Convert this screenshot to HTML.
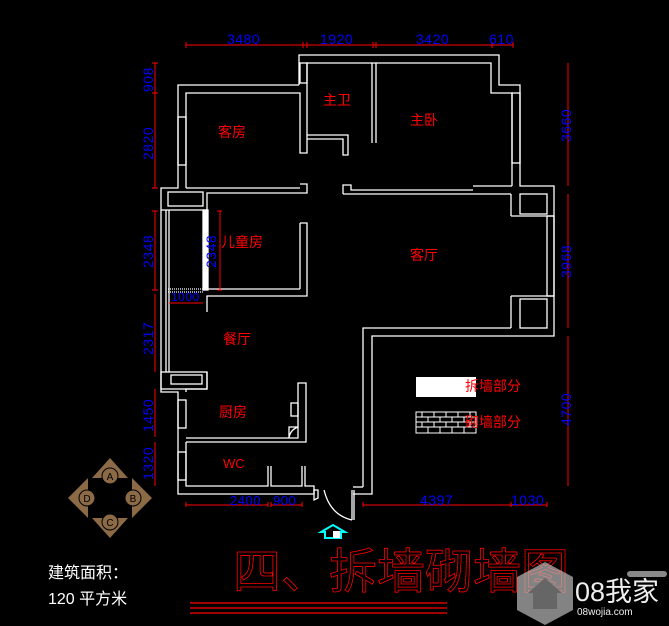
<!DOCTYPE html>
<html><head><meta charset="utf-8"><style>
html,body{margin:0;padding:0;background:#000;}
svg{display:block}
text{font-family:"Liberation Sans","Noto Sans CJK SC",sans-serif;}
</style></head><body>
<svg width="669" height="626" viewBox="0 0 669 626" xmlns="http://www.w3.org/2000/svg">
<rect width="669" height="626" fill="#000"/>
<g fill="none" stroke="#fff" stroke-width="1.3">
<polyline points="299,85 299,55 499,55 499,85 520,85 520,186 554,186 554,336 372,336 372,494 353,494"/>
<polyline points="307,93 307,63 491,63 491,93 512,93 512,186"/>
<polyline points="299,85 178,85 178,188 161,188 161,392 178,392 178,494 314,494"/>
<polyline points="186,188 186,93 300,93 300,153 307,153 307,93"/>
<line x1="186" y1="188" x2="300" y2="188"/>
<rect x="178" y="117" width="8" height="48"/>
<rect x="300" y="63" width="7" height="20"/>
<polyline points="307,135 348,135 348,155 343,155 343,139 307,139"/>
<line x1="372" y1="63" x2="372" y2="143"/>
<line x1="376" y1="63" x2="376" y2="143"/>
<rect x="512" y="93" width="8" height="70"/>
<polyline points="300,184 307,184 307,193 207,193 207,210"/>
<polyline points="343,194 343,185 351,185 351,190 473,190"/>
<line x1="473" y1="186" x2="512" y2="186"/>
<line x1="343" y1="194" x2="511" y2="194"/>
<line x1="511" y1="194" x2="511" y2="216"/>
<rect x="520" y="194" width="27" height="20"/>
<line x1="511" y1="216" x2="554" y2="216"/>
<rect x="168" y="192" width="35" height="14"/>
<line x1="161" y1="210" x2="207" y2="210"/>
<line x1="166" y1="210" x2="166" y2="372"/>
<line x1="169" y1="210" x2="169" y2="372"/>
<rect x="203" y="210" width="5" height="80" fill="#fff"/>
<line x1="168" y1="289" x2="203" y2="289" stroke-dasharray="1,1"/>
<line x1="168" y1="292" x2="203" y2="292" stroke-dasharray="1,1"/>
<polyline points="300,223 307,223 307,296 207,296 207,312"/>
<line x1="207" y1="289" x2="300" y2="289"/>
<line x1="300" y1="223" x2="300" y2="289"/>
<rect x="547" y="216" width="7" height="80"/>
<line x1="511" y1="296" x2="554" y2="296"/>
<line x1="511" y1="296" x2="511" y2="328"/>
<rect x="520" y="299" width="27" height="29"/>
<rect x="161" y="372" width="46" height="17"/>
<rect x="171" y="375" width="31" height="9"/>
<polyline points="186,392 186,389 207,389 207,372"/>
<rect x="178" y="400" width="8" height="28"/>
<rect x="178" y="452" width="8" height="28"/>
<polyline points="186,438 298,438 298,383 306,383 306,442 186,442"/>
<rect x="291" y="403" width="7" height="13"/>
<path d="M289,438 L289,427 L298,427 M289,438 Q290,430 298,427"/>
<polyline points="186,442 186,486 268,486 268,466"/>
<polyline points="271,466 271,486 302,486 302,466"/>
<polyline points="305,466 305,486 314,486 314,494"/>
<polyline points="363,487 363,328 511,328"/>
<polyline points="353,487 363,487"/>
<path d="M314,490 L314,500 L318,498 L318,490 Z"/>
<line x1="352" y1="490" x2="352" y2="520"/>
<line x1="354" y1="490" x2="354" y2="520"/>
<path d="M324,490 Q330,515 352,520"/>
</g>
<rect x="416" y="377" width="60" height="20" fill="#fff"/>
<g stroke="#fff" stroke-width="1" fill="none">
<rect x="416" y="412" width="60" height="21"/>
<line x1="416" y1="417" x2="476" y2="417"/><line x1="416" y1="422" x2="476" y2="422"/><line x1="416" y1="427" x2="476" y2="427"/>
<path d="M422,412v5M434,412v5M446,412v5M458,412v5M470,412v5M428,417v5M440,417v5M452,417v5M464,417v5M422,422v5M434,422v5M446,422v5M458,422v5M470,422v5M428,427v6M440,427v6M452,427v6M464,427v6"/>
</g>
<g fill="#f00" font-size="14">
<text x="465" y="391">拆墙部分</text>
<text x="465" y="427">砌墙部分</text>
<text x="218" y="137">客房</text>
<text x="323" y="105">主卫</text>
<text x="410" y="125">主卧</text>
<text x="221" y="247">儿童房</text>
<text x="410" y="260">客厅</text>
<text x="223" y="344">餐厅</text>
<text x="219" y="417">厨房</text>
<text x="223" y="468" font-size="13">WC</text>
</g>
<g stroke="#f00" stroke-width="1" fill="none">
<line x1="186" y1="45" x2="513" y2="45"/>
<path d="M186,42v6M303,42v6M307,42v6M373,42v6M376,42v6M492,42v6M513,42v6"/>
<line x1="155" y1="63" x2="155" y2="188"/>
<path d="M152,63h6M152,93h6M152,188h6"/>
<line x1="155" y1="211" x2="155" y2="290"/>
<path d="M152,211h6M152,290h6"/>
<line x1="155" y1="294" x2="155" y2="372"/>
<line x1="155" y1="389" x2="155" y2="437"/>
<line x1="155" y1="442" x2="155" y2="486"/>
<line x1="220" y1="211" x2="220" y2="290"/><path d="M217,211h5M217,290h5"/>
<line x1="169" y1="303" x2="203" y2="303"/>
<line x1="568" y1="63" x2="568" y2="186"/>
<line x1="568" y1="194" x2="568" y2="328"/>
<line x1="568" y1="336" x2="568" y2="486"/>
<line x1="186" y1="505" x2="268" y2="505"/>
<line x1="271" y1="505" x2="302" y2="505"/>
<line x1="363" y1="505" x2="547" y2="505"/>
<path d="M186,502v5M268,502v5M271,502v5M302,502v5M363,502v5M511,502v5M547,502v5"/>
</g>
<g fill="#0000ff" font-size="14" letter-spacing="0.5">
<text x="227" y="44">3480</text><text x="320" y="44">1920</text><text x="416" y="44">3420</text><text x="489" y="44">610</text>
<text x="230" y="505" font-size="13">2400</text><text x="273" y="505" font-size="13">900</text>
<text x="420" y="505">4397</text><text x="511" y="505">1030</text>
<text x="171" y="301" font-size="12">1000</text>
<text transform="translate(153,92) rotate(-90)">908</text>
<text transform="translate(153,160) rotate(-90)">2820</text>
<text transform="translate(153,268) rotate(-90)">2348</text>
<text transform="translate(216,268) rotate(-90)">2348</text>
<text transform="translate(153,355) rotate(-90)">2317</text>
<text transform="translate(153,432) rotate(-90)">1450</text>
<text transform="translate(153,480) rotate(-90)">1320</text>
<text transform="translate(571,142) rotate(-90)">3660</text>
<text transform="translate(571,278) rotate(-90)">3968</text>
<text transform="translate(571,426) rotate(-90)">4700</text>
</g>
<path d="M321,532 L333,525 L345,532 L341,532 L341,538 L325,538 L325,532 Z" fill="none" stroke="#0ff" stroke-width="2"/>
<rect x="333" y="531" width="7" height="7" fill="#fff"/>
<g fill="#8b6a45">
<polygon points="110,458 128,478 92,478"/>
<polygon points="110,538 128,518 92,518"/>
<polygon points="68,498 88,478 88,518"/>
<polygon points="152,498 132,478 132,518"/>
</g>
<g fill="#8b6a45" stroke="#000" stroke-width="1">
<circle cx="110" cy="476" r="8"/><circle cx="110" cy="522" r="8"/><circle cx="87" cy="498" r="8"/><circle cx="133" cy="498" r="8"/>
</g>
<g fill="#000" font-size="10" text-anchor="middle">
<text x="110" y="480">A</text><text x="110" y="526">C</text><text x="87" y="502">D</text><text x="133" y="502">B</text>
</g>
<g fill="#fff" font-size="16">
<text x="48" y="578">建筑面积：</text>
<text x="48" y="604">120 平方米</text>
</g>
<text x="233" y="588" fill="none" stroke="#f00" stroke-width="0.8" font-size="48">四、拆墙砌墙图</text>
<g stroke="#f00" stroke-width="1.3">
<line x1="190" y1="603" x2="447" y2="603"/><line x1="190" y1="608" x2="447" y2="608"/><line x1="190" y1="613" x2="447" y2="613"/>
</g>
<polygon points="545,562 573,577 573,610 545,625 517,610 517,577" fill="#bbb" opacity="0.7"/>
<path d="M528,593 L545,578 L562,593 L557,593 L557,609 L533,609 L533,593Z" fill="#666"/>
<text x="575" y="601" fill="#eee" font-size="27">08我家</text>
<text x="577" y="615" fill="#eee" font-size="10">08wojia.com</text>
<rect x="627" y="571" width="40" height="6" rx="3" fill="#888"/>
</svg>
</body></html>
